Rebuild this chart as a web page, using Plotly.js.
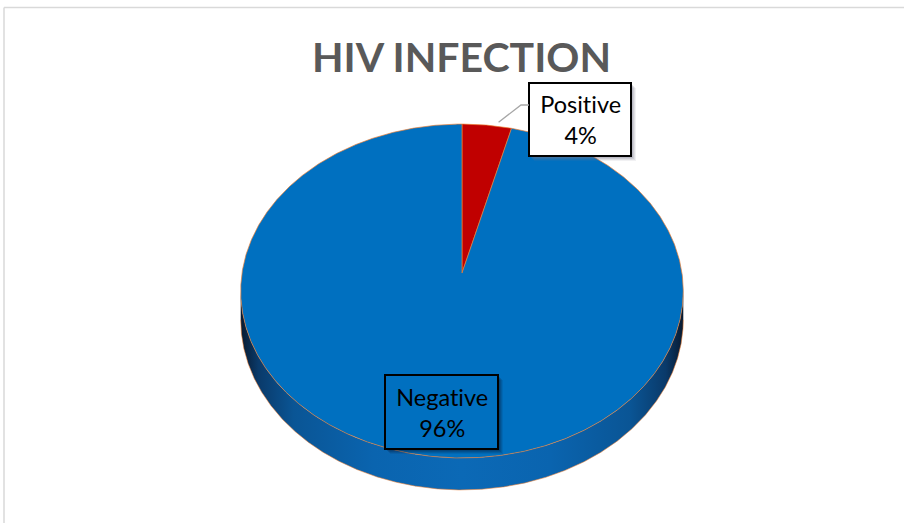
<!DOCTYPE html>
<html>
<head>
<meta charset="utf-8">
<script src="https://cdn.plot.ly/plotly-3.0.1.min.js"></script>
<style>
  html, body { margin: 0; padding: 0; background: #ffffff; }
  #chart { width: 904px; height: 523px; }
  #chart text { font-variant-ligatures: none; font-feature-settings: "liga" 0, "clig" 0; }
</style>
</head>
<body>
<div id="chart"></div>
<script>
// Survey result: HIV test outcome
const categories = ['Positive', 'Negative'];
const values = [4, 96];
const sliceColors = ['#C00000', '#0070C0'];

// 3-D pie geometry (pixel space, y grows downwards)
const W = 904, H = 523;
const cx = 462, cy = 273;      // centre of the top face
const R = 220, A = 165;        // horizontal / vertical radius
const persp = 0.108;           // far edge slightly smaller than near edge
const depth = 28.5;            // thickness of the pie
const edgeColor = 'rgba(237,125,49,0.85)';

// angle t: radians clockwise from 12 o'clock
function project(t, dz) {
  const u = Math.sin(t), v = Math.cos(t);
  const s = 1 / (1 + persp * v);
  return [cx + R * u * s, cy - A * v * s + (dz || 0) * s];
}

function arc(t0, t1, dz) {
  const n = Math.max(2, Math.ceil(Math.abs(t1 - t0) / 0.005));
  const xs = [], ys = [];
  for (let i = 0; i <= n; i++) {
    const p = project(t0 + (t1 - t0) * i / n, dz);
    xs.push(p[0]); ys.push(p[1]);
  }
  return { xs, ys };
}

const traces = [];

// side wall, visible between the two horizontal extremes of the front half
const a = Math.acos(persp);
const tRight = Math.PI - a, tLeft = Math.PI + a;
const topFront = arc(tRight, tLeft, 0);
const botFront = arc(tLeft, tRight, depth);
traces.push({
  type: 'scatter', mode: 'lines', hoverinfo: 'skip', showlegend: false,
  x: topFront.xs.concat(botFront.xs, [topFront.xs[0]]),
  y: topFront.ys.concat(botFront.ys, [topFront.ys[0]]),
  fill: 'toself',
  fillcolor: '#0a66b3',
  fillgradient: {
    type: 'horizontal',
    colorscale: [
      [0, '#081a30'], [0.04, '#0a3a6a'], [0.12, '#0a5595'], [0.3, '#0a64af'],
      [0.5, '#0b69b6'], [0.7, '#0a64af'], [0.88, '#0a5595'], [0.96, '#0a3a6a'], [1, '#081a30']
    ]
  },
  line: { color: 'rgba(0,0,0,0)', width: 0 }
});
// lower rim
traces.push({
  type: 'scatter', mode: 'lines', hoverinfo: 'skip', showlegend: false,
  x: botFront.xs, y: botFront.ys,
  line: { color: 'rgba(237,125,49,0.55)', width: 1 }
});

// top face slices, first slice starting at 12 o'clock, clockwise
const total = values.reduce((s, v) => s + v, 0);
let start = 0;
const mids = [];
values.forEach((v, i) => {
  const sweep = v / total * 2 * Math.PI;
  const seg = arc(start, start + sweep, 0);
  traces.push({
    type: 'scatter', mode: 'lines', hoverinfo: 'skip', showlegend: false,
    name: categories[i],
    x: [cx].concat(seg.xs, [cx]),
    y: [cy].concat(seg.ys, [cy]),
    fill: 'toself',
    fillcolor: sliceColors[i],
    line: { color: edgeColor, width: 0.8 }
  });
  mids.push(start + sweep / 2);
  start += sweep;
});

const pctText = values.map(v => Math.round(v / total * 100) + '%');
const labelFont = { family: 'Lato, sans-serif', size: 23.5, color: '#000000' };

// callout boxes
const boxes = [
  { x0: 529, y0: 83, x1: 631, y1: 156, fill: '#ffffff', shadow: 'rgba(120,120,140,' },
  { x0: 385, y0: 375, x1: 498, y1: 449, fill: 'rgba(0,0,0,0)', shadow: 'rgba(10,30,60,' }
];

const shapes = [
  // frame of the chart area
  { type: 'line', xref: 'x', yref: 'y', x0: 4, y0: 7.5, x1: W, y1: 7.5, line: { color: '#d9d9d9', width: 1.5 } },
  { type: 'line', xref: 'x', yref: 'y', x0: 4, y0: 7.5, x1: 4, y1: H, line: { color: '#d9d9d9', width: 1.5 } }
];

boxes.forEach(b => {
  [[5, 0.10], [4, 0.14], [3, 0.18], [2, 0.22]].forEach(([o, al]) => {
    shapes.push({
      type: 'rect', xref: 'x', yref: 'y', layer: 'above',
      x0: b.x0 + o, y0: b.y0 + o, x1: b.x1 + o, y1: b.y1 + o,
      fillcolor: b.shadow + al + ')', line: { width: 0 }
    });
  });
  shapes.push({
    type: 'rect', xref: 'x', yref: 'y', layer: 'above',
    x0: b.x0, y0: b.y0, x1: b.x1, y1: b.y1,
    fillcolor: b.fill === 'rgba(0,0,0,0)' ? sliceColors[1] : b.fill,
    line: { color: '#000000', width: 2 }
  });
});

// leader line for the small slice
const tip = project(mids[0] + 0.09, 0);
shapes.push({
  type: 'path', xref: 'x', yref: 'y', layer: 'above',
  path: 'M' + (tip[0] - 6) + ',' + (tip[1] - 5) + ' L521,105 L529,105',
  line: { color: '#a6a6a6', width: 1.3 }
});

const annotations = boxes.map((b, i) => ({
  xref: 'x', yref: 'y',
  x: (b.x0 + b.x1) / 2, y: (b.y0 + b.y1) / 2,
  xanchor: 'center', yanchor: 'middle',
  text: categories[i] + '<br>' + pctText[i],
  showarrow: false,
  font: labelFont
}));

const layout = {
  width: W, height: H,
  margin: { l: 0, r: 0, t: 0, b: 0 },
  paper_bgcolor: '#ffffff', plot_bgcolor: '#ffffff',
  showlegend: false,
  title: {
    text: 'HIV INFECTION',
    font: { family: 'Lato, sans-serif', size: 41, color: '#595959', weight: 'bold' },
    xref: 'paper', yref: 'paper',
    x: 461.5 / W, xanchor: 'center',
    y: 1 - 58 / H, yanchor: 'middle'
  },
  xaxis: { range: [0, W], visible: false, fixedrange: true },
  yaxis: { range: [H, 0], visible: false, fixedrange: true },
  shapes, annotations
};

Plotly.newPlot('chart', traces, layout, { displayModeBar: false, staticPlot: true });
</script>
</body>
</html>
